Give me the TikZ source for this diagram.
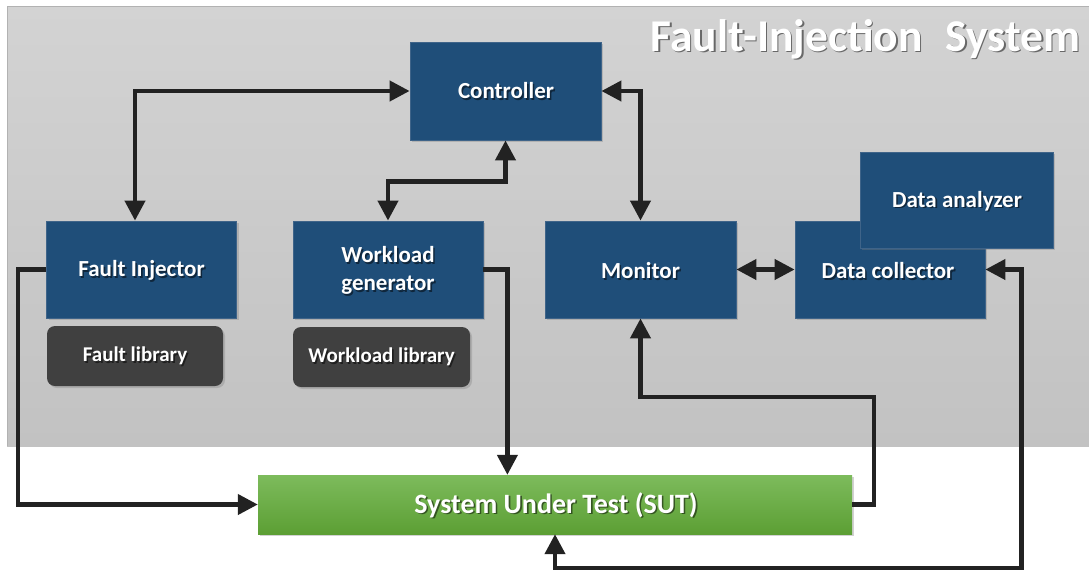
\documentclass[tikz,border=0pt]{standalone}
\usepackage{fontspec}
\setmainfont{Carlito}
\usetikzlibrary{arrows.meta,shadows,calc}

\definecolor{boxblue}{HTML}{1F4E79}
\definecolor{boxedge}{HTML}{3F6489}
\definecolor{libgray}{HTML}{404040}
\definecolor{wire}{HTML}{222222}
\definecolor{bgtop}{HTML}{D3D3D3}
\definecolor{bgbot}{HTML}{C2C2C2}
\definecolor{greentop}{HTML}{7DBB5C}
\definecolor{greenbot}{HTML}{5C9F34}

\tikzset{
  unit/.style={rectangle, fill=boxblue, draw=boxedge, line width=.8pt,
    minimum width=190pt, minimum height=97pt,
    drop shadow={opacity=.35, shadow xshift=2pt, shadow yshift=-2pt}},
  library/.style={rectangle, rounded corners=8pt, fill=libgray,
    minimum width=176pt, minimum height=60pt,
    drop shadow={opacity=.35, shadow xshift=2pt, shadow yshift=-2pt}},
  sut/.style={rectangle, top color=greentop, bottom color=greenbot,
    minimum width=594pt, minimum height=59pt,
    drop shadow={opacity=.35, shadow xshift=2pt, shadow yshift=-2pt}},
  wirestyle/.style={draw=wire, line width=4.2pt, line join=miter,
    arrows={-Triangle[length=20pt,width=20pt]}},
  both/.style={arrows={Triangle[length=20pt,width=20pt]-Triangle[length=20pt,width=20pt]}},
}

% white label over a soft dark copy of itself
\newcommand\lbl[3]{%
  \node[text=black, opacity=.5, align=center, font=#2] at ($#1+(1.6,1.6)$) {#3};
  \node[text=white, align=center, font=#2] at #1 {#3};}
\newcommand\fntunit{\bfseries\fontsize{23}{28}\selectfont}
\newcommand\fntlib{\bfseries\fontsize{21}{24}\selectfont}
\newcommand\fntsut{\bfseries\fontsize{28}{32}\selectfont}
\newcommand\fnttitle{\bfseries\fontsize{45.5}{52}\selectfont}

\begin{document}
\begin{tikzpicture}[x=1pt, y=-1pt]
\useasboundingbox (0,0) rectangle (1089,571);

% background panel
\fill[white] (0,0) rectangle (1089,571);
\shade[top color=bgtop, bottom color=bgbot] (7,6) rectangle (1089,446);
\draw[gray!60, line width=.8pt] (7,446) -- (7,6) -- (1089,6);

% units
\node[unit, minimum width=191pt, minimum height=98pt] (ctrl) at (505.5,91) {};
\node[unit] (fi)  at (141.5,269.5) {};
\node[unit] (wg)  at (388,269.5) {};
\node[unit, minimum width=191pt] (mon) at (640.5,269.5) {};
\node[unit] (dc)  at (890,269.5) {};
\node[unit, minimum width=193pt, minimum height=96pt] (da) at (956.5,200) {};

\node[library] (fl) at (135,356) {};
\node[library, minimum width=177pt] (wl) at (381.5,357) {};

\node[sut] (sut) at (555,504.5) {};

% labels
\lbl{(865.5,39)}{\fnttitle}{Fault-Injection\hspace{.5em}System}
\lbl{(506,91)}{\fntunit}{Controller}
\lbl{(141.5,270.5)}{\fntunit}{Fault Injector}
\lbl{(388,270.5)}{\fntunit}{Workload\\generator}
\lbl{(640.5,270.5)}{\fntunit}{Monitor}
\lbl{(888,270.5)}{\fntunit}{Data collector}
\lbl{(957,201)}{\fntunit}{Data analyzer}
\lbl{(135,356)}{\fntlib}{Fault library}
\lbl{(381.5,357)}{\fntlib}{Workload library}
\lbl{(556,505)}{\fntsut}{System Under Test (SUT)}

% connectors
\draw[wirestyle, both] (ctrl.west) -| ([xshift=-6.5pt]fi.north);
\draw[wirestyle, both] (ctrl.south) -- ++(0,41) -| (wg.north);
\draw[wirestyle, both] (ctrl.east) -| (mon.north);
\draw[wirestyle, both] (mon.east) -- (dc.west);
\draw[wirestyle] (fi.west) -- ++(-28,0) |- (sut.west);
\draw[wirestyle] (wg.east) -- ++(24,0) coordinate (wgd) -- (wgd |- sut.north);
\draw[wirestyle] (sut.east) -- ++(22,0) -- ++(0,-107.5) -| (mon.south);
\draw[wirestyle, both] (dc.east) -- ++(36,0) -- ++(0,298.5) -| (sut.south);
\end{tikzpicture}
\end{document}
